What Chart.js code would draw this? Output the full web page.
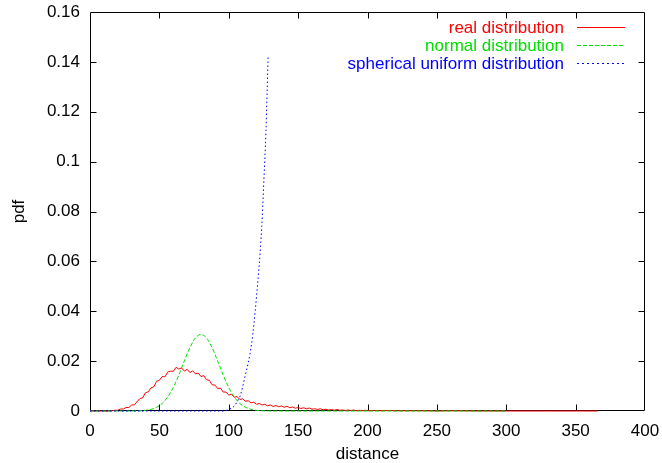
<!DOCTYPE html>
<html>
<head>
<meta charset="utf-8">
<script src="https://cdn.jsdelivr.net/npm/chart.js@4/dist/chart.umd.min.js"></script>
<style>
  html, body { margin: 0; padding: 0; background: #fff; }
  #wrap { width: 662px; height: 463px; }
</style>
</head>
<body>
<div id="wrap"><canvas id="pdfChart" width="662" height="463"></canvas></div>
<script>
/* ---------- data ---------- */
const seriesNames = ['real distribution', 'normal distribution', 'spherical uniform distribution'];
const seriesColors = ['#ff0000', '#00e000', '#0000ff'];

const realDist = [
  0, 14,
  16, 18, 20, 22, 24, 26, 28, 30, 32, 34, 36, 38, 40, 42, 44, 46, 48, 50,
  52, 54, 56, 58, 60, 62, 64, 66, 68, 70, 72, 74, 76, 78, 80, 82, 84, 86, 88, 90,
  92, 94, 96, 98, 100, 102, 104, 106, 108, 110, 112, 114, 116, 118, 120, 122, 124, 126, 128, 130,
  132, 134, 136, 138, 140, 142, 144, 146, 148, 150, 152, 154, 156, 158, 160, 162, 164, 166, 168, 170,
  172, 174, 176, 178, 180, 182, 184, 186, 188, 190, 192, 194, 196, 198, 200,
  205, 210, 215, 220, 230, 240, 250, 260, 280, 300, 330, 366
];
const realPdf = [
  0, 0,
  0.0001, 0.0003, 0.0003, 0.0008, 0.0008, 0.0014, 0.0014, 0.0024, 0.0025, 0.0038, 0.0050, 0.0053, 0.0073, 0.0077, 0.0093, 0.0097, 0.0119, 0.0123,
  0.0138, 0.0137, 0.0156, 0.0160, 0.0159, 0.0175, 0.0168, 0.0173, 0.0160, 0.0167, 0.0154, 0.0161, 0.0149, 0.0152, 0.0138, 0.0142, 0.0125, 0.0123, 0.0105, 0.0104,
  0.0090, 0.0092, 0.0076, 0.0076, 0.0064, 0.0067, 0.0055, 0.0058, 0.0046, 0.0049, 0.0039, 0.0041, 0.0033, 0.0035, 0.0027, 0.0030, 0.0024, 0.0027, 0.0021, 0.0024,
  0.0018, 0.0022, 0.0017, 0.0020, 0.0015, 0.0019, 0.0013, 0.0016, 0.0011, 0.0014, 0.0010, 0.0013, 0.0009, 0.0012, 0.0007, 0.0009, 0.0006, 0.0009, 0.0005, 0.0007,
  0.0004, 0.0006, 0.0003, 0.0006, 0.0003, 0.0004, 0.0002, 0.0004, 0.0002, 0.0004, 0.0001, 0.0003, 0.0001, 0.0003, 0.0001,
  0.0002, 0.0001, 0.0002, 0.0001, 0.0001, 0.0001, 0, 0.0001, 0, 0, 0, 0
];

const normalDist = [0, 28, 32, 36, 40, 44, 48, 52, 56, 60, 64, 68, 72, 76, 80,
  84, 88, 92, 96, 100, 104, 108, 112, 116, 120, 124, 128, 132, 300];
const normalPdf = [0, 0, 0.00002, 0.0001, 0.00027, 0.00067, 0.0015, 0.0030, 0.0056, 0.0094, 0.0144, 0.0201, 0.0254, 0.0293, 0.0307,
  0.0293, 0.0254, 0.0201, 0.0144, 0.0094, 0.0056, 0.0030, 0.0015, 0.00067, 0.00027, 0.0001, 0.00003, 0, 0];

const sphereDist = [0, 96, 100, 104, 106, 108, 111.7, 116.5, 120, 123.8, 125.2, 126.8, 128.4];
const spherePdf  = [0, 0, 0.0006, 0.002, 0.0037, 0.0057, 0.0138, 0.0271, 0.0458, 0.074, 0.091, 0.112, 0.1427];

const xTicks = [0, 50, 100, 150, 200, 250, 300, 350, 400];
const yTicks = [0, 0.02, 0.04, 0.06, 0.08, 0.1, 0.12, 0.14, 0.16];

/* ---------- helpers ---------- */
const FONT = "'Liberation Sans', Arial, Helvetica, sans-serif";
const toPoints = (xs, ys) => xs.map((x, i) => ({ x: x, y: ys[i] }));

// gnuplot-ish frame with inward ticks on all four sides (drawn under the curves)
const framePlugin = {
  id: 'frame',
  beforeDatasetsDraw(chart) {
    const { ctx, chartArea: a, scales } = chart;
    const L = Math.round(a.left) + 0.5, R = Math.round(a.right) - 0.5;
    const T = Math.round(a.top) + 0.5, B = Math.round(a.bottom) - 0.5;
    const tl = 6;
    ctx.save();
    ctx.strokeStyle = '#000';
    ctx.lineWidth = 1;
    ctx.beginPath();
    xTicks.forEach(v => {
      const px = Math.round(scales.x.getPixelForValue(v)) + 0.5;
      if (v !== 0 && v !== 400) {
        ctx.moveTo(px, B); ctx.lineTo(px, B - tl);
        ctx.moveTo(px, T); ctx.lineTo(px, T + tl);
      }
    });
    yTicks.forEach(v => {
      const py = Math.round(scales.y.getPixelForValue(v)) + 0.5;
      if (v !== 0 && v !== 0.16) {
        ctx.moveTo(L, py); ctx.lineTo(L + tl, py);
        ctx.moveTo(R, py); ctx.lineTo(R - tl, py);
      }
    });
    ctx.rect(L, T, R - L, B - T);
    ctx.stroke();
    ctx.restore();
  }
};

// key in the upper right: text right-aligned, line sample after it
const keyPlugin = {
  id: 'key',
  afterDraw(chart) {
    const { ctx } = chart;
    const textRight = 564, lineX0 = 577, lineX1 = 625;
    const rows = [27, 45, 63];
    ctx.save();
    ctx.font = '17px ' + FONT;
    ctx.textAlign = 'right';
    ctx.textBaseline = 'middle';
    chart.data.datasets.forEach((ds, i) => {
      const y = rows[i];
      ctx.fillStyle = seriesColors[i];
      ctx.fillText(ds.label, textRight, y + 1);
      // sample segment, filled pixel by pixel so it stays crisp
      const dash = ds.borderDash && ds.borderDash.length ? ds.borderDash : null;
      if (!dash) {
        ctx.fillRect(lineX0, y, lineX1 - lineX0, 1);
      } else {
        const on = Math.max(1, Math.round(dash[0])), off = Math.max(1, Math.round(dash[1]));
        for (let x = lineX0; x < lineX1; x += on + off) {
          ctx.fillRect(x, y, Math.min(on, lineX1 - x), 1);
        }
      }
    });
    ctx.restore();
  }
};

/* ---------- chart ---------- */
const ctx = document.getElementById('pdfChart').getContext('2d');

new Chart(ctx, {
  type: 'line',
  data: {
    datasets: [
      {
        label: seriesNames[0],
        data: toPoints(realDist, realPdf),
        borderColor: seriesColors[0],
        borderWidth: 1,
        pointRadius: 0,
        tension: 0,
        clip: 2,
        order: 3
      },
      {
        label: seriesNames[1],
        data: toPoints(normalDist, normalPdf),
        borderColor: seriesColors[1],
        borderWidth: 1,
        borderDash: [4, 2],
        pointRadius: 0,
        cubicInterpolationMode: 'monotone',
        clip: 2,
        order: 2
      },
      {
        label: seriesNames[2],
        data: toPoints(sphereDist, spherePdf),
        borderColor: seriesColors[2],
        borderWidth: 1,
        borderDash: [1.5, 2.5],
        pointRadius: 0,
        cubicInterpolationMode: 'monotone',
        clip: 2,
        order: 1
      }
    ]
  },
  options: {
    responsive: false,
    animation: false,
    layout: { padding: { top: 12, right: 17, left: 0, bottom: 0 } },
    plugins: {
      legend: { display: false },
      tooltip: { enabled: false }
    },
    scales: {
      x: {
        type: 'linear',
        min: 0,
        max: 400,
        afterBuildTicks: s => { s.ticks = xTicks.map(v => ({ value: v })); },
        afterFit: s => { s.height = 52; s.paddingLeft = 0; s.paddingRight = 0; },
        grid: { display: false, drawTicks: false },
        border: { display: false },
        ticks: { color: '#000', padding: 10, maxRotation: 0, font: { family: FONT, size: 17 } },
        title: {
          display: true,
          text: 'distance',
          color: '#000',
          padding: { top: 0, bottom: 0 },
          font: { family: FONT, size: 17, lineHeight: 1 }
        }
      },
      y: {
        min: 0,
        max: 0.16,
        afterBuildTicks: s => { s.ticks = yTicks.map(v => ({ value: v })); },
        afterFit: s => { s.width = 90; s.paddingTop = 0; s.paddingBottom = 0; },
        grid: { display: false, drawTicks: false },
        border: { display: false },
        ticks: {
          color: '#000',
          padding: 10,
          font: { family: FONT, size: 17 },
          callback: v => String(+v.toFixed(2))
        },
        title: {
          display: true,
          text: 'pdf',
          color: '#000',
          padding: { top: 11, bottom: 0 },
          font: { family: FONT, size: 17, lineHeight: 1 }
        }
      }
    }
  },
  plugins: [framePlugin, keyPlugin]
});
</script>
</body>
</html>
